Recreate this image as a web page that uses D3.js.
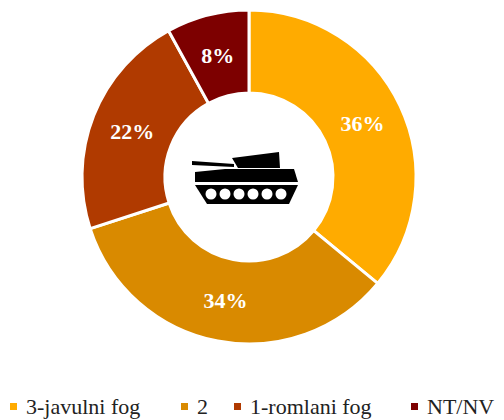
<!DOCTYPE html>
<html>
<head>
  <script src="https://d3js.org/d3.v7.min.js"></script>
  <style>
    body { margin: 0; background: #fff; overflow: hidden; }
    text { font-family: "Liberation Serif", serif; }
  </style>
</head>
<body>
  <script>
    const categories = ["3-javulni fog", "2", "1-romlani fog", "NT/NV"];
    const values = [36, 34, 22, 8];
    const colors = ["#ffab00", "#d98a00", "#b03a00", "#7d0000"];
    const labels = ["36%", "34%", "22%", "8%"];

    const width = 504, height = 420;
    const cx = 249, cy = 177, outer = 167, inner = 84;

    const svg = d3.select("body").append("svg")
      .attr("width", width)
      .attr("height", height);

    const pie = d3.pie().sort(null).value(d => d)(values);
    const arc = d3.arc().innerRadius(inner).outerRadius(outer);

    const g = svg.append("g").attr("transform", `translate(${cx},${cy})`);

    g.selectAll("path")
      .data(pie)
      .enter().append("path")
      .attr("d", arc)
      .attr("fill", (d, i) => colors[i])
      .attr("stroke", "#fff")
      .attr("stroke-width", 3);

    g.selectAll("text")
      .data(pie)
      .enter().append("text")
      .attr("transform", d => `translate(${arc.centroid(d)})`)
      .attr("text-anchor", "middle")
      .attr("dy", "0.35em")
      .attr("fill", "#fff")
      .attr("font-size", 22)
      .attr("font-weight", "bold")
      .text((d, i) => labels[i]);

    // tank icon
    const tank = svg.append("g").attr("transform", `translate(${cx},${cy})`).attr("fill", "#000");
    tank.append("path").attr("d", "M-57,-16 L-15,-13 L-15,-10 L-57,-12 Z");
    tank.append("path").attr("d", "M-17,-19 L30,-25 L31,-9 L-11,-9 Z");
    tank.append("path").attr("d", "M-54,-5 L-24,-8 L45,-8 L49,5 L-54,5 Z");
    tank.append("path").attr("d", "M-54,8 L49,8 L40,27 L-42,27 Z");
    const wheels = [-38, -24, -10, 4, 18, 32];
    tank.selectAll("circle")
      .data(wheels)
      .enter().append("circle")
      .attr("cx", d => d)
      .attr("cy", 17)
      .attr("r", 5.5)
      .attr("fill", "#fff");

    // legend
    const legendX = [10, 181, 234, 411];
    const legend = svg.append("g");
    legend.selectAll("rect")
      .data(categories)
      .enter().append("rect")
      .attr("x", (d, i) => legendX[i])
      .attr("y", 403)
      .attr("width", 7)
      .attr("height", 7)
      .attr("fill", (d, i) => colors[i]);
    legend.selectAll("text")
      .data(categories)
      .enter().append("text")
      .attr("x", (d, i) => legendX[i] + 16)
      .attr("y", 414)
      .attr("font-size", 22)
      .attr("fill", "#222")
      .text(d => d);
  </script>
</body>
</html>
